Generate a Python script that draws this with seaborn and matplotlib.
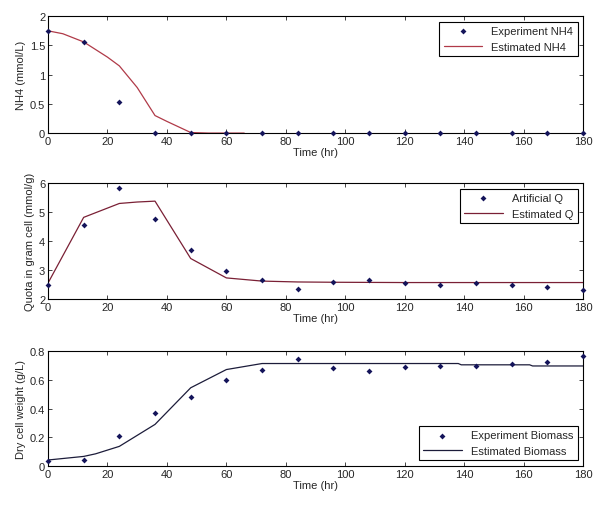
import numpy as np
import pandas as pd
import matplotlib
matplotlib.use("Agg")
import matplotlib.pyplot as plt
import seaborn as sns
from matplotlib.ticker import FormatStrFormatter, FuncFormatter

# sampling times of the experiment (hr)
exp_time = [0, 12, 24, 36, 48, 60, 72, 84, 96, 108, 120, 132, 144, 156, 168, 180]

# NH4 (mmol/L)
nh4_exp = [1.75, 1.56, 0.54, 0, 0, 0, 0, 0, 0, 0, 0, 0, 0, 0, 0, 0]
nh4_est_time = [0, 5, 12, 20, 24, 30, 36, 40, 48, 54, 60, 66]
nh4_est = [1.75, 1.70, 1.56, 1.30, 1.15, 0.78, 0.30, 0.20, 0.01, 0.0, 0.0, 0.0]

# Quota in gram cell (mmol/g)
q_art = [2.50, 4.56, 5.85, 4.75, 3.68, 2.97, 2.66, 2.35, 2.58, 2.67, 2.54, 2.50, 2.54, 2.48, 2.41, 2.30]
q_est_time = [0, 12, 24, 30, 36, 48, 60, 72, 84, 96, 120, 150, 180]
q_est = [2.55, 4.82, 5.30, 5.35, 5.38, 3.40, 2.73, 2.62, 2.59, 2.58, 2.57, 2.57, 2.57]

# Dry cell weight (g/L)
bio_exp = [0.035, 0.044, 0.206, 0.369, 0.480, 0.598, 0.668, 0.747, 0.684, 0.663, 0.690, 0.697, 0.700, 0.710, 0.728, 0.765]
bio_est_time = [0, 12, 16, 24, 36, 48, 60, 72, 84, 138, 139, 162, 163, 180]
bio_est = [0.042, 0.067, 0.085, 0.137, 0.290, 0.545, 0.672, 0.714, 0.714, 0.714, 0.705, 0.705, 0.697, 0.697]

sns.set_style("ticks")
plt.rcParams["font.family"] = ["Liberation Sans", "DejaVu Sans"]
plt.rcParams["font.size"] = 8

fig = plt.figure(figsize=(6.02, 5.06), dpi=100)

panels = [
    dict(pos=[0.0797, 0.735, 0.889, 0.231], exp_y=nh4_exp, est_t=nh4_est_time, est_y=nh4_est,
         exp_lab="Experiment NH4", est_lab="Estimated NH4", ylabel="NH4 (mmol/L)",
         ylim=(0, 2), yticks=[0, 0.5, 1, 1.5, 2], line_color="#b03a48", loc="upper right"),
    dict(pos=[0.0797, 0.407, 0.889, 0.229], exp_y=q_art, est_t=q_est_time, est_y=q_est,
         exp_lab="Artificial Q", est_lab="Estimated Q", ylabel="Quota in gram cell (mmol/g)",
         ylim=(2, 6), yticks=[2, 3, 4, 5, 6], line_color="#7a2035", loc="upper right"),
    dict(pos=[0.0797, 0.077, 0.889, 0.227], exp_y=bio_exp, est_t=bio_est_time, est_y=bio_est,
         exp_lab="Experiment Biomass", est_lab="Estimated Biomass", ylabel="Dry cell weight (g/L)",
         ylim=(0, 0.8), yticks=[0, 0.2, 0.4, 0.6, 0.8], line_color="#1c1c3a", loc="lower right"),
]

for p in panels:
    ax = fig.add_axes(p["pos"])
    exp_df = pd.DataFrame({"t": exp_time, "y": p["exp_y"]})
    est_df = pd.DataFrame({"t": p["est_t"], "y": p["est_y"]})
    sns.scatterplot(data=exp_df, x="t", y="y", ax=ax, marker="D", s=9, color="#14145a",
                    edgecolor="#14145a", linewidth=0, label=p["exp_lab"], zorder=3, clip_on=False)
    sns.lineplot(data=est_df, x="t", y="y", ax=ax, color=p["line_color"], linewidth=0.9,
                 label=p["est_lab"], estimator=None, sort=False)
    ax.set_xlim(0, 180)
    ax.set_ylim(*p["ylim"])
    ax.set_xticks(range(0, 181, 20))
    ax.set_yticks(p["yticks"])
    ax.yaxis.set_major_formatter(FuncFormatter(lambda v, _: "{:g}".format(v)))
    ax.set_xlabel("Time (hr)", labelpad=1)
    ax.set_ylabel(p["ylabel"], labelpad=3)
    ax.tick_params(direction="in", top=True, right=True, length=3, width=0.6, pad=2, labelsize=8)
    for s in ax.spines.values():
        s.set_visible(True)
        s.set_linewidth(0.8)
        s.set_color("black")
    leg = ax.legend(loc=p["loc"], fontsize=8, frameon=True, fancybox=False, edgecolor="black",
                    handlelength=3.5, borderaxespad=0.5, framealpha=1)
    leg.get_frame().set_linewidth(0.8)

fig.savefig("out.png", dpi=100)
